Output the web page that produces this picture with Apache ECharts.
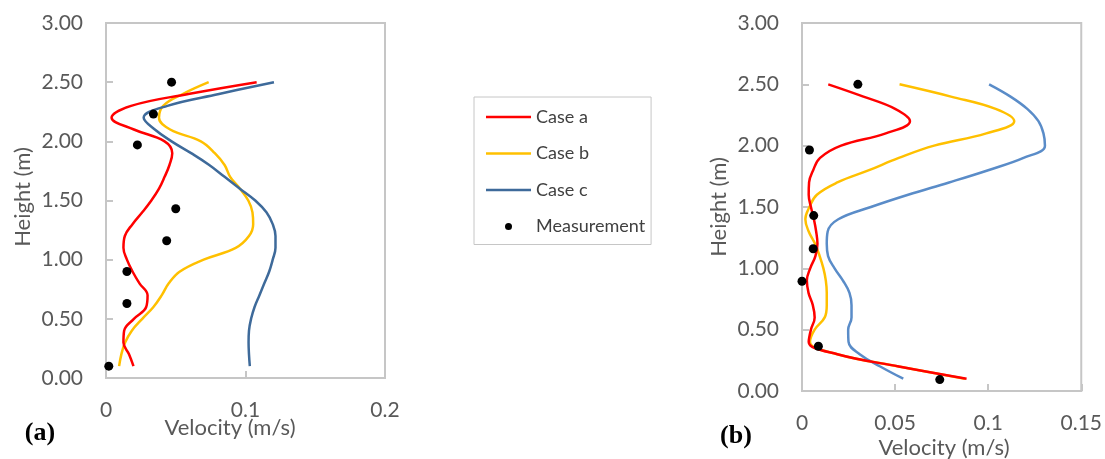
<!DOCTYPE html>
<html>
<head>
<meta charset="utf-8">
<script src="https://cdn.jsdelivr.net/npm/echarts@6/dist/echarts.min.js"></script>
<style>
html,body{margin:0;padding:0;background:#fff;}
#chart{width:1105px;height:459px;}
</style>
</head>
<body>
<div id="chart"></div>
<script>
// ---- data ----
const heights = [2.5, 2.4, 2.3, 2.2, 2.1, 2.0, 1.9, 1.8, 1.7, 1.6, 1.5, 1.4, 1.3, 1.2, 1.1, 1.0, 0.9, 0.8, 0.7, 0.6, 0.5, 0.4, 0.3, 0.2, 0.1];

// Panel (a)
const caseA_a = [0.108, 0.059, 0.018, 0.004, 0.020, 0.042, 0.0475, 0.0455, 0.042, 0.038, 0.0325, 0.026, 0.019, 0.0135, 0.0125, 0.015, 0.019, 0.024, 0.0298, 0.0288, 0.020, 0.013, 0.0125, 0.0165, 0.0197];
const caseB_a = [0.0736, 0.055, 0.041, 0.038, 0.046, 0.068, 0.078, 0.085, 0.089, 0.096, 0.102, 0.105, 0.1055, 0.1025, 0.093, 0.070, 0.053, 0.045, 0.040, 0.034, 0.026, 0.0185, 0.0137, 0.011, 0.0094];
const caseC_a = [0.1204, 0.081, 0.044, 0.027, 0.035, 0.047, 0.061, 0.074, 0.085, 0.096, 0.107, 0.115, 0.1195, 0.1215, 0.1215, 0.1195, 0.117, 0.1135, 0.110, 0.1065, 0.104, 0.1025, 0.1022, 0.1025, 0.1031];
const measH_a = [2.50, 2.23, 1.97, 1.43, 1.16, 0.90, 0.63, 0.10];
const measV_a = [0.047, 0.034, 0.0225, 0.050, 0.0435, 0.015, 0.015, 0.002];

// Panel (b)
const caseA_b = [0.0141, 0.033, 0.050, 0.058, 0.045, 0.021, 0.0097, 0.006, 0.0038, 0.0036, 0.0048, 0.0064, 0.0076, 0.0083, 0.0072, 0.0044, 0.0026, 0.0035, 0.0058, 0.0068, 0.0048, 0.0036, 0.019, 0.052, 0.0884];
const caseB_b = [0.0524, 0.080, 0.104, 0.114, 0.099, 0.071, 0.052, 0.036, 0.019, 0.008, 0.004, 0.0018, 0.0036, 0.007, 0.0095, 0.0115, 0.0128, 0.0133, 0.0133, 0.0122, 0.0068, 0.0043, 0.019, 0.052, 0.0875];
const caseC_b = [0.1005, 0.112, 0.121, 0.127, 0.1297, 0.1305, 0.119, 0.100, 0.079, 0.057, 0.037, 0.0195, 0.0138, 0.0133, 0.014, 0.0175, 0.022, 0.0255, 0.0266, 0.0266, 0.0248, 0.025, 0.031, 0.042, 0.0544];
const measH_b = [2.50, 1.965, 1.43, 1.16, 0.895, 0.365, 0.093];
const measV_b = [0.030, 0.004, 0.0063, 0.006, 0.0, 0.0088, 0.074];

const xTicksA = {min: 0, max: 0.2, interval: 0.1};
const xTicksB = {min: 0, max: 0.15, interval: 0.05};
const yTicks = {min: 0, max: 3, interval: 0.5};

// ---- helpers ----
const pairs = (vs, hs) => vs.map((v, i) => [v, hs[i]]);
const FONT = 'Lato';
const GRAY = '#595959';
const AX = '#c6c6c6';
const LINE_ICON = 'path://M0,0 L45,0 L45,2.5 L0,2.5 Z';

function xAxis(idx, t) {
  return {
    type: 'value', gridIndex: idx, min: t.min, max: t.max, interval: t.interval,
    axisLine: {show: true, lineStyle: {color: AX, width: 2}},
    axisTick: {show: true, inside: true, length: 7, lineStyle: {color: AX, width: 2}},
    splitLine: {show: false},
    axisLabel: {color: GRAY, fontFamily: FONT, fontSize: 21, margin: 22}
  };
}
function yAxis(idx) {
  return {
    type: 'value', gridIndex: idx, min: yTicks.min, max: yTicks.max, interval: yTicks.interval,
    axisLine: {show: true, lineStyle: {color: AX, width: 2}},
    axisTick: {show: true, inside: true, length: 7, lineStyle: {color: AX, width: 2}},
    splitLine: {show: false},
    axisLabel: {color: GRAY, fontFamily: FONT, fontSize: 21, margin: 23, formatter: v => v.toFixed(2)}
  };
}
function line(name, color, vs, idx, z) {
  return {
    name: name, type: 'line', xAxisIndex: idx, yAxisIndex: idx,
    data: pairs(vs, heights), smooth: 0.4, symbol: 'none', showSymbol: false,
    lineStyle: {color: color, width: 2.5}, itemStyle: {color: color}, z: z
  };
}
function meas(vs, hs, idx) {
  return {
    name: 'Measurement', type: 'scatter', xAxisIndex: idx, yAxisIndex: idx,
    data: pairs(vs, hs), symbol: 'circle', symbolSize: 9,
    itemStyle: {color: '#000', opacity: 1}, z: 6, clip: false
  };
}

const RED = '#ff0000', YEL = '#ffc000', BLUE_A = '#3e6a9a', BLUE_B = '#5a8cc8';

const chart = echarts.init(document.getElementById('chart'), null, {renderer: 'canvas'});
chart.setOption({
  backgroundColor: '#fff',
  animation: false,
  grid: [
    {left: 106, top: 23, width: 279, height: 355, show: true, borderColor: AX, borderWidth: 2, containLabel: false},
    {left: 802, top: 23, width: 280, height: 368, show: true, borderColor: AX, borderWidth: 2, containLabel: false}
  ],
  xAxis: [xAxis(0, xTicksA), xAxis(1, xTicksB)],
  yAxis: [yAxis(0), yAxis(1)],
  legend: {
    orient: 'vertical', left: 474, top: 97,
    padding: [10, 6, 8, 12],
    borderColor: '#c6c6c6', borderWidth: 1,
    itemWidth: 45, itemHeight: 7, itemGap: 16.5,
    textStyle: {fontFamily: FONT, fontSize: 18, color: '#404040', lineHeight: 20},
    data: [
      {name: 'Case a', icon: LINE_ICON},
      {name: 'Case b', icon: LINE_ICON},
      {name: 'Case c', icon: LINE_ICON},
      {name: 'Measurement', icon: 'circle'}
    ]
  },
  graphic: [
    {type: 'text', x: 230, y: 428, style: {text: 'Velocity (m/s)', font: '22px Lato', fill: GRAY, textAlign: 'center', textVerticalAlign: 'middle'}},
    {type: 'text', x: 23, y: 197, rotation: Math.PI / 2, style: {text: 'Height (m)', font: '22px Lato', fill: GRAY, textAlign: 'center', textVerticalAlign: 'middle'}},
    {type: 'text', x: 944, y: 448, style: {text: 'Velocity (m/s)', font: '22px Lato', fill: GRAY, textAlign: 'center', textVerticalAlign: 'middle'}},
    {type: 'text', x: 719, y: 207, rotation: Math.PI / 2, style: {text: 'Height (m)', font: '22px Lato', fill: GRAY, textAlign: 'center', textVerticalAlign: 'middle'}},
    {type: 'text', x: 40, y: 433, style: {text: '(a)', font: 'bold 26px "Liberation Serif"', fill: '#000', textAlign: 'center', textVerticalAlign: 'middle'}},
    {type: 'text', x: 736, y: 436, style: {text: '(b)', font: 'bold 26px "Liberation Serif"', fill: '#000', textAlign: 'center', textVerticalAlign: 'middle'}}
  ],
  series: [
    line('Case a', RED, caseA_a, 0, 5),
    line('Case b', YEL, caseB_a, 0, 3),
    line('Case c', BLUE_A, caseC_a, 0, 4),
    meas(measV_a, measH_a, 0),
    line('Case a', RED, caseA_b, 1, 5),
    line('Case b', YEL, caseB_b, 1, 3),
    line('Case c', BLUE_B, caseC_b, 1, 4),
    meas(measV_b, measH_b, 1)
  ]
});
</script>
</body>
</html>
